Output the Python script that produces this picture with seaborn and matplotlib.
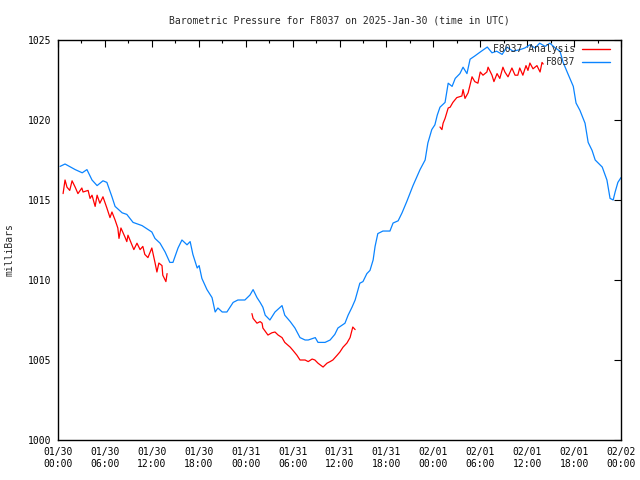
import numpy as np
import pandas as pd
import matplotlib
matplotlib.use("Agg")
import matplotlib.pyplot as plt
from matplotlib.lines import Line2D
import seaborn as sns

# ---- data (hours since 2025-01-30 00:00 UTC, pressure in millibars) ----
station_hours = [0.26, 0.9, 2.2, 3.1, 3.7, 4.35, 5.0, 5.75, 6.25, 6.9, 7.3, 8.2, 8.8, 9.6,
                 10.75, 12.0, 12.4, 13.05, 13.7, 14.3, 14.7, 15.35, 15.85, 16.5, 16.9, 17.25,
                 17.8, 18.05, 18.4, 19.05, 19.7, 20.1, 20.45, 21.0, 21.6, 22.4, 23.0, 23.9,
                 24.55, 24.95, 25.45, 25.85, 26.2, 26.5, 27.1, 27.75, 28.65, 29.0, 29.7, 30.3,
                 30.95, 31.6, 32.0, 32.9, 33.25, 34.15, 34.8, 35.4, 35.8, 36.7, 37.1, 37.6,
                 38.0, 38.6, 39.0, 39.5, 39.9, 40.3, 40.55, 40.9, 41.55, 42.45, 42.85, 43.5,
                 44.0, 44.6, 45.4, 46.3, 46.95, 47.3, 47.8, 48.2, 48.5, 48.85, 49.5, 49.9,
                 50.4, 50.8, 51.4, 51.8, 52.3, 52.7, 53.3, 54.0, 54.9, 55.5, 56.1, 56.8, 57.4,
                 58.2, 59.1, 59.7, 60.35, 61.0, 61.6, 62.3, 62.9, 63.6, 64.2, 64.6, 65.2,
                 65.9, 66.25, 66.75, 67.4, 67.8, 68.3, 68.7, 69.6, 70.2, 70.6, 71.0, 71.25,
                 71.6, 72.0]
station_mbar = [1017.1, 1017.25, 1016.9, 1016.7, 1016.9, 1016.25, 1015.9, 1016.2, 1016.1,
                1015.2, 1014.6, 1014.2, 1014.1, 1013.6, 1013.4, 1013.0, 1012.6, 1012.3,
                1011.75, 1011.1, 1011.1, 1012.0, 1012.5, 1012.2, 1012.4, 1011.6, 1010.75,
                1010.9, 1010.1, 1009.4, 1008.9, 1008.0, 1008.25, 1008.0, 1008.0, 1008.6,
                1008.75, 1008.75, 1009.06, 1009.4, 1008.9, 1008.6, 1008.3, 1007.8, 1007.5,
                1008.0, 1008.4, 1007.8, 1007.4, 1007.0, 1006.4, 1006.25, 1006.25, 1006.4,
                1006.1, 1006.1, 1006.25, 1006.6, 1007.0, 1007.3, 1007.8, 1008.3, 1008.75,
                1009.8, 1009.9, 1010.4, 1010.6, 1011.25, 1012.1, 1012.9, 1013.06, 1013.06,
                1013.56, 1013.7, 1014.2, 1014.9, 1015.9, 1016.9, 1017.5, 1018.56, 1019.4,
                1019.7, 1020.3, 1020.8, 1021.1, 1022.3, 1022.1, 1022.6, 1022.9, 1023.3,
                1022.9, 1023.8, 1024.0, 1024.25, 1024.56, 1024.2, 1024.3, 1024.1, 1024.56,
                1024.3, 1024.4, 1024.5, 1024.7, 1024.5, 1024.8, 1024.6, 1024.8, 1024.5,
                1024.3, 1023.6, 1022.9, 1022.1, 1021.06, 1020.6, 1019.8, 1018.6, 1018.1,
                1017.5, 1017.06, 1016.25, 1015.1, 1015.0, 1015.5, 1016.1, 1016.4]

analysis1_hours = [0.65, 0.9, 1.15, 1.5, 1.8, 2.2, 2.55, 3.05, 3.2, 3.85, 4.1, 4.35, 4.75,
                   5.0, 5.35, 5.75, 6.25, 6.65, 6.9, 7.3, 7.65, 7.8, 8.05, 8.55, 8.8, 8.95,
                   9.45, 9.7, 10.1, 10.5, 10.85, 11.1, 11.5, 12.0, 12.4, 12.65, 12.9, 13.3,
                   13.4, 13.8, 13.95]
analysis1_mbar = [1015.4, 1016.25, 1015.8, 1015.6, 1016.2, 1015.8, 1015.4, 1015.75, 1015.5,
                  1015.6, 1015.1, 1015.3, 1014.6, 1015.3, 1014.8, 1015.2, 1014.5, 1013.9,
                  1014.25, 1013.75, 1013.25, 1012.6, 1013.25, 1012.7, 1012.4, 1012.8, 1012.2,
                  1011.9, 1012.3, 1011.9, 1012.1, 1011.6, 1011.4, 1012.0, 1011.1, 1010.5,
                  1011.06, 1010.9, 1010.3, 1009.9, 1010.4]

analysis2_hours = [24.8, 24.95, 25.45, 25.85, 26.1, 26.2, 26.85, 27.35, 27.75, 28.15, 28.65,
                   29.0, 29.7, 30.05, 30.55, 30.95, 31.6, 32.0, 32.5, 32.85, 33.25, 33.9,
                   34.4, 34.8, 35.15, 35.7, 36.05, 36.45, 36.95, 37.35, 37.7, 38.0]
analysis2_mbar = [1007.9, 1007.6, 1007.3, 1007.4, 1007.3, 1007.0, 1006.56, 1006.7, 1006.75,
                  1006.56, 1006.4, 1006.1, 1005.8, 1005.6, 1005.3, 1005.0, 1005.0, 1004.9,
                  1005.06, 1005.0, 1004.8, 1004.56, 1004.8, 1004.9, 1005.0, 1005.3, 1005.5,
                  1005.8, 1006.06, 1006.4, 1007.06, 1006.9]

analysis3_hours = [48.85, 49.1, 49.25, 49.5, 49.9, 50.15, 50.5, 51.0, 51.65, 51.8, 52.05,
                   52.45, 52.95, 53.3, 53.7, 54.0, 54.35, 54.85, 55.0, 55.5, 55.75, 56.15,
                   56.5, 56.9, 57.15, 57.55, 58.05, 58.45, 58.8, 59.05, 59.45, 59.85, 60.1,
                   60.35, 60.75, 61.25, 61.65, 61.9, 62.05]
analysis3_mbar = [1019.56, 1019.4, 1019.8, 1020.1, 1020.75, 1020.8, 1021.1, 1021.4, 1021.5,
                  1021.9, 1021.35, 1021.7, 1022.7, 1022.4, 1022.3, 1023.0, 1022.8, 1023.0,
                  1023.3, 1022.8, 1022.4, 1022.9, 1022.6, 1023.3, 1023.0, 1022.7, 1023.25,
                  1022.8, 1022.8, 1023.25, 1022.8, 1023.4, 1023.1, 1023.56, 1023.2, 1023.4,
                  1023.0, 1023.6, 1023.5]

series_names = ["F8037 Analysis", "F8037"]
series_colors = ["#ff0000", "#0a84ff"]
x_tick_hours = list(range(0, 73, 6))
x_tick_labels = ["01/30\n00:00", "01/30\n06:00", "01/30\n12:00", "01/30\n18:00",
                 "01/31\n00:00", "01/31\n06:00", "01/31\n12:00", "01/31\n18:00",
                 "02/01\n00:00", "02/01\n06:00", "02/01\n12:00", "02/01\n18:00",
                 "02/02\n00:00"]
y_ticks = [1000, 1005, 1010, 1015, 1020, 1025]
title = "Barometric Pressure for F8037 on 2025-Jan-30 (time in UTC)"
y_label = "milliBars"

# ---- build table ----
frames = []
for seg, (h, p) in enumerate([(analysis1_hours, analysis1_mbar),
                              (analysis2_hours, analysis2_mbar),
                              (analysis3_hours, analysis3_mbar)]):
    frames.append(pd.DataFrame({"hour": h, "mbar": p, "series": series_names[0],
                                "seg": f"a{seg}"}))
frames.append(pd.DataFrame({"hour": station_hours, "mbar": station_mbar,
                            "series": series_names[1], "seg": "s0"}))
df = pd.concat(frames, ignore_index=True)

sns.set_theme(style="white")
plt.rcParams["font.family"] = ["DejaVu Sans Mono"]
plt.rcParams["font.size"] = 7

fig = plt.figure(figsize=(6.4, 4.8), dpi=100)
ax = fig.add_axes([58 / 640, 40 / 480, 563 / 640, 400 / 480])

palette = dict(zip(series_names, series_colors))
sns.lineplot(data=df, x="hour", y="mbar", hue="series", units="seg", estimator=None,
             sort=False, palette=palette, linewidth=0.9, legend=False, ax=ax)

ax.set_xlim(0, 72)
ax.set_ylim(1000, 1025)
ax.set_xticks(x_tick_hours)
ax.set_xticklabels(x_tick_labels)
ax.set_xticks(np.arange(3, 72, 6), minor=True)
ax.set_yticks(y_ticks)
ax.set_yticklabels([str(v) for v in y_ticks])
ax.tick_params(which="both", direction="in", top=True, right=True, colors="black",
               labelsize=7, width=0.8)
ax.tick_params(which="major", length=5, pad=5)
ax.tick_params(which="minor", length=2.5)
ax.set_xlabel("")
ax.set_ylabel("")
for sp in ax.spines.values():
    sp.set_color("black")
    sp.set_linewidth(1.0)

ax.set_title(title, fontsize=7, pad=12)
fig.text(10 / 640, 1 - 250 / 480, y_label, rotation=90, ha="center", va="center",
         fontsize=7)

# legend (gnuplot style: right-aligned text followed by line sample)
for i, (name, col) in enumerate(zip(series_names, series_colors)):
    yy = 0.9775 - i * 0.0325
    ax.text(0.918, yy, name, transform=ax.transAxes, ha="right", va="center", fontsize=7)
    ax.add_line(Line2D([0.931, 0.9805], [yy, yy], transform=ax.transAxes, color=col,
                       linewidth=1.0))

fig.savefig("out.png", dpi=100)
